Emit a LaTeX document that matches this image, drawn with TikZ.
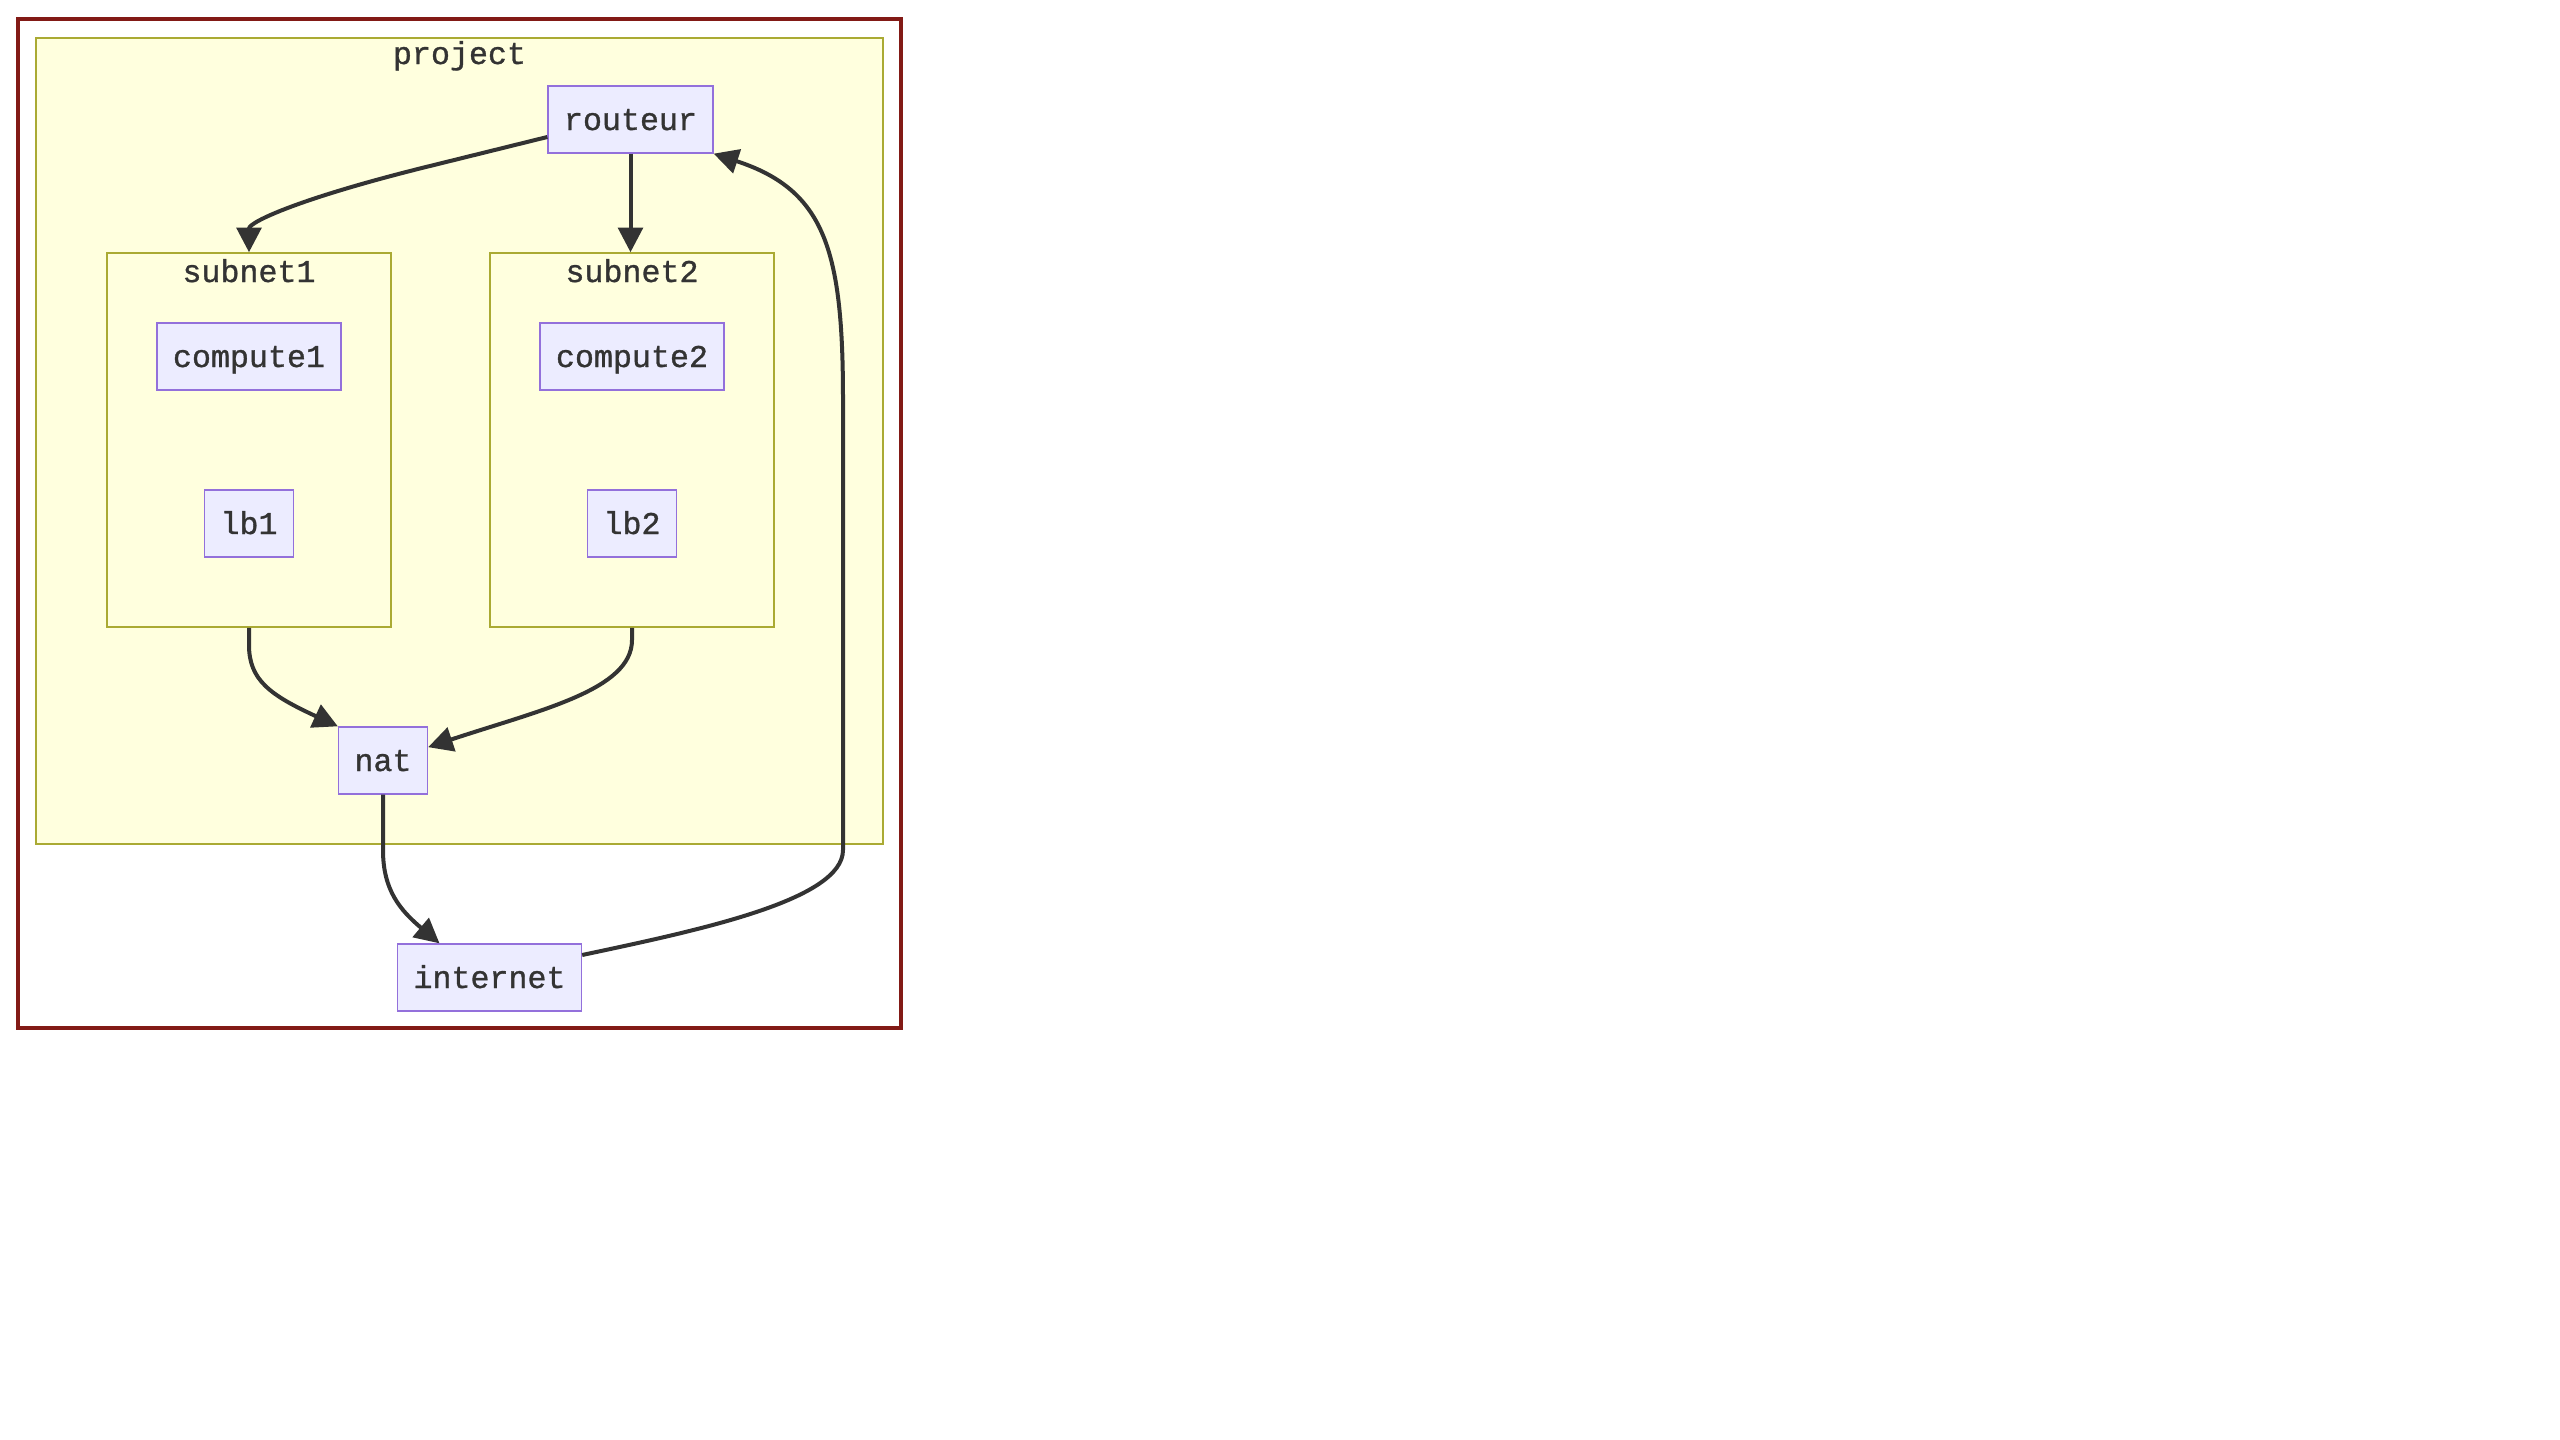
\documentclass[tikz,border=0pt]{standalone}
\usepackage{fontspec}
\setmainfont{Liberation Mono}[FakeBold=1]
\usetikzlibrary{arrows.meta}
\definecolor{nodefill}{HTML}{ECECFF}
\definecolor{nodeline}{HTML}{9370DB}
\definecolor{clusterfill}{HTML}{FFFFDE}
\definecolor{clusterline}{HTML}{AAAA33}
\definecolor{edgecol}{HTML}{333333}
\definecolor{framecol}{HTML}{821A16}

\begin{document}
\begin{tikzpicture}[x=0.3pt,y=-0.3pt,
	box/.style={draw=nodeline, fill=nodefill, line width=0.4pt, minimum height=20.1pt, inner xsep=4.8pt, inner ysep=0pt, text height=7.5pt, text depth=1.2pt},
	cluster/.style={draw=clusterline, fill=clusterfill, line width=0.45pt, inner sep=0pt},
	title/.style={anchor=base, inner sep=0pt},
	edge/.style={draw=edgecol, line width=1.2pt, -{Triangle[length=7.4pt,width=7.4pt]}}]
	\fontsize{9.5pt}{11pt}\selectfont
	\color{edgecol}
	\useasboundingbox (0,0) rectangle (2560,1440);
	\fill[white] (0,0) rectangle (2560,1440);
	
	\node[draw=framecol, line width=1pt, inner sep=0pt, minimum width=264.9pt, minimum height=302.7pt] (frame) at (459.5,523.5) {};
	\node[cluster, minimum width=254.1pt, minimum height=241.8pt] (project) at (459.5,441) {};
	\node[title] (projectlbl) at (459.5,64) {project};
	\node[cluster, minimum width=85.2pt, minimum height=112.2pt] (subnet1) at (249,440) {};
	\node[title] (subnet1lbl) at (249,282) {subnet1};
	\node[cluster, minimum width=85.2pt, minimum height=112.2pt] (subnet2) at (632,440) {};
	\node[title] (subnet2lbl) at (632,282) {subnet2};
	
	\node[box] (routeur) at (630.5,119.5) {routeur};
	\node[box] (compute1) at (249,356.5) {compute1};
	\node[box] (lb1) at (249,523.5) {lb1};
	\node[box] (compute2) at (632,356.5) {compute2};
	\node[box] (lb2) at (632,523.5) {lb2};
	\node[box] (nat) at (383,760.5) {nat};
	\node[box] (internet) at (489.5,977.5) {internet};
	
	\draw[edge] ([yshift=-5.25pt]routeur.west) -- (430,166) .. controls (300,198) and (249,222) .. (subnet1.north);
	\draw[edge] (routeur.south) -- (routeur.south |- subnet2.north);
	\draw[edge] (subnet1.south) -- (249,645) .. controls (249,680) and (270,695) .. (nat.north west);
	\draw[edge] (subnet2.south) -- (632,640) .. controls (632,690) and (540,710) .. ([yshift=4pt]nat.east);
	\draw[edge] (nat.south) -- (383,850) .. controls (383,890) and (400,910) .. ([xshift=-15pt]internet.north);
	\draw[edge] ([yshift=6.75pt]internet.east) .. controls (700,930) and (843,900) .. (843,850) -- (843,400) .. controls (843,250) and (825,190) .. (routeur.south east);
\end{tikzpicture}
\end{document}
